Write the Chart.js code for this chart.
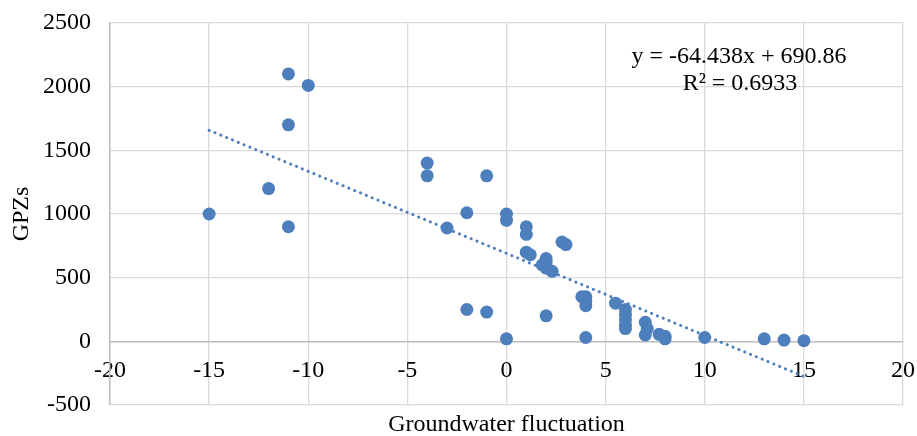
<!DOCTYPE html>
<html>
<head>
<meta charset="utf-8">
<script src="https://cdn.jsdelivr.net/npm/chart.js@4.4.1/dist/chart.umd.min.js"></script>
<style>
html,body{margin:0;padding:0;background:#fff;}
#wrap{width:917px;height:436px;position:relative;}
</style>
</head>
<body>
<div id="wrap"><canvas id="c" width="917" height="436"></canvas></div>
<script>
const xValues = [-15,-12,-11,-11,-11,-10,-4,-4,-3,-2,-2,-1,-1,0,0,0,1,1,1,1.2,1.8,2,2,2,2,2.3,2.8,3,3.8,4,4,4,4,5.5,6,6,6,6,6,7,7,7.1,7.7,8,8,10,13,14,15];
const yValues = [1000,1200,2100,1700,900,2010,1400,1300,890,1010,250,1300,230,1000,950,20,900,840,700,680,600,650,575,620,200,550,780,760,350,350,320,280,30,300,250,210,170,130,100,150,50,100,55,40,20,30,20,10,5];
const slope = -64.438;
const intercept = 690.86;
const rSquared = 0.6933;
const trendRange = [-15, 15];
const xTicks = [-20,-15,-10,-5,0,5,10,15,20];
const yTicks = [-500,0,500,1000,1500,2000,2500];
const xTitle = 'Groundwater fluctuation';
const yTitle = 'GPZs';
const eqLines = ['y = -64.438x + 690.86', 'R\u00B2 = 0.6933'];

const points = xValues.map((x, i) => ({x: x, y: yValues[i]}));
const trend = trendRange.map(x => ({x: x, y: slope * x + intercept}));

const FONT = "'Liberation Serif', 'Times New Roman', serif";
const FS = 24;
const BLUE = '#4e7fbd';

const eqPlugin = {
  id: 'eq',
  afterDraw(chart) {
    const ctx = chart.ctx;
    ctx.save();
    ctx.font = FS + 'px ' + FONT;
    ctx.fillStyle = '#000';
    ctx.textAlign = 'center';
    ctx.textBaseline = 'alphabetic';
    ctx.fillText(eqLines[0], 739, 63);
    ctx.fillText(eqLines[1], 740, 90);
    ctx.restore();
  }
};

function zeroPad(s) { s.paddingTop = 0; s.paddingBottom = 0; s.paddingLeft = 0; s.paddingRight = 0; }

new Chart(document.getElementById('c'), {
  type: 'scatter',
  data: {
    datasets: [
      {
        label: 'data',
        data: points,
        backgroundColor: BLUE,
        borderColor: BLUE,
        pointRadius: 6.5,
        pointHoverRadius: 6.5,
        borderWidth: 0,
        order: 1
      },
      {
        label: 'trend',
        type: 'line',
        data: trend,
        borderColor: BLUE,
        borderWidth: 3,
        borderDash: [0.1, 6.2],
        borderCapStyle: 'round',
        pointRadius: 0,
        fill: false,
        order: 0
      }
    ]
  },
  options: {
    responsive: false,
    animation: false,
    devicePixelRatio: 1,
    layout: {autoPadding: false, padding: {top: 23, right: 14, left: 0, bottom: 0}},
    plugins: {legend: {display: false}, tooltip: {enabled: false}},
    scales: {
      x: {
        type: 'linear',
        position: {y: 0},
        min: -20, max: 20,
        afterBuildTicks(s) { s.ticks = xTicks.map(v => ({value: v})); },
        afterFit: zeroPad,
        grid: {color: '#d9d9d9', lineWidth: 1.3, drawTicks: false},
        border: {color: '#bfbfbf', width: 1.5},
        ticks: {font: {family: FONT, size: FS}, color: '#000', padding: 15, maxRotation: 0, callback: v => String(v)}
      },
      x2: {
        type: 'linear',
        position: 'bottom',
        min: -20, max: 20,
        grid: {display: false, drawTicks: false},
        border: {display: false},
        ticks: {display: false},
        title: {display: true, text: xTitle, font: {family: FONT, size: FS}, color: '#000', padding: {top: 0, bottom: -3}},
        afterFit(s) { zeroPad(s); s.height = 31; }
      },
      y: {
        type: 'linear',
        position: 'left',
        min: -500, max: 2500,
        afterBuildTicks(s) { s.ticks = yTicks.map(v => ({value: v})); },
        grid: {color: '#d9d9d9', lineWidth: 1.3, drawTicks: false},
        border: {color: '#bfbfbf', width: 1.5},
        ticks: {font: {family: FONT, size: FS}, color: '#000', padding: 19, callback: v => String(v)},
        title: {display: true, text: yTitle, font: {family: FONT, size: FS}, color: '#000', padding: {top: 7, bottom: 0}},
        afterFit(s) { zeroPad(s); s.width = 110; }
      }
    }
  },
  plugins: [eqPlugin]
});
</script>
</body>
</html>
